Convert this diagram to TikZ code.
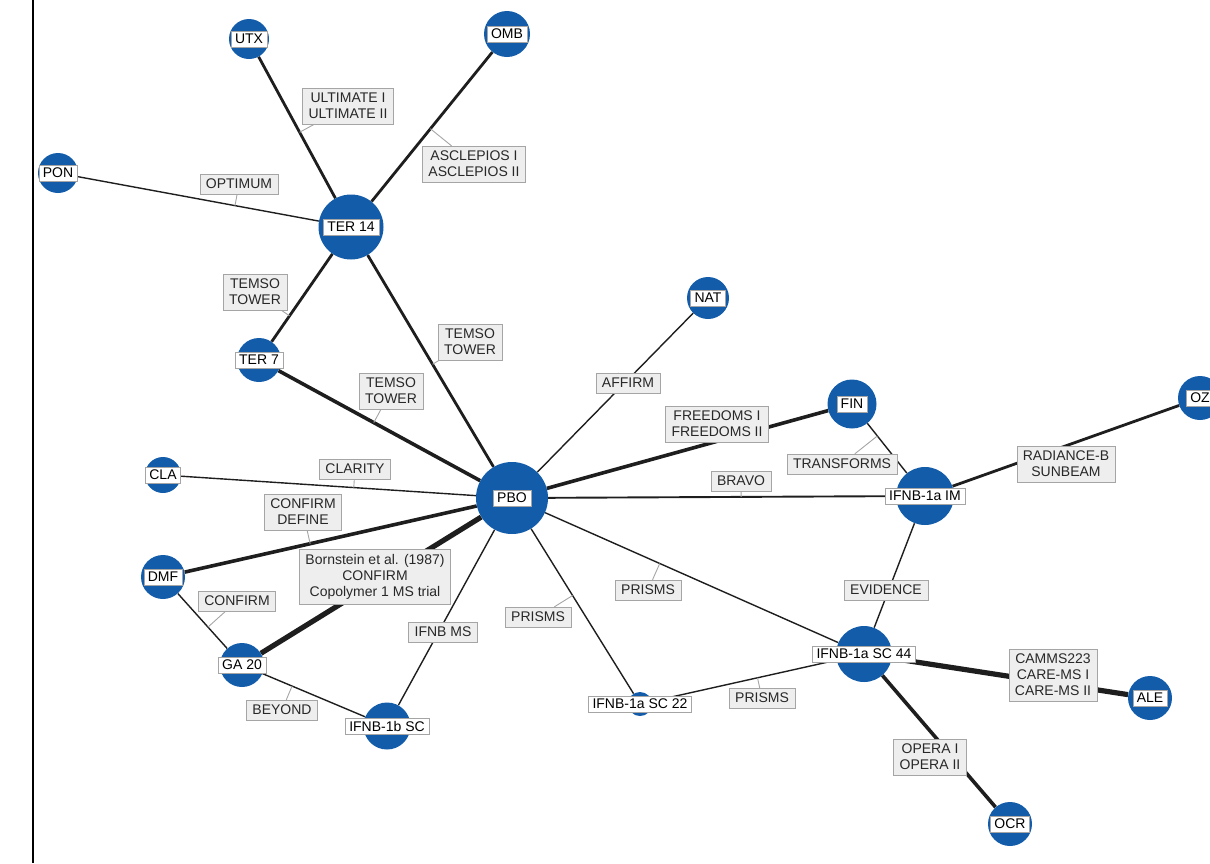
\documentclass[tikz,border=0pt]{standalone}
\usepackage{fontspec}
\setmainfont{Liberation Sans}
\usetikzlibrary{calc,backgrounds}
\definecolor{drugblue}{RGB}{18,92,170}
\definecolor{boxgray}{RGB}{238,238,238}
\definecolor{rimgray}{RGB}{165,165,165}
\definecolor{txtgray}{RGB}{40,40,40}
\definecolor{linegray}{RGB}{30,30,30}
\tikzstyle{drug} = [circle, fill=drugblue, inner sep=0pt]
\tikzstyle{trial} = [rectangle, draw=rimgray, fill=boxgray, text=txtgray, align=center, inner xsep=6pt, inner ysep=5pt, font=\fontsize{14}{16}\selectfont]
\tikzset{
 tag/.style
  = {rectangle, draw=rimgray, fill=white, text=black, inner xsep=4pt, inner ysep=3pt,
     font=\fontsize{14}{16}\selectfont},
 w1/.style
  = {draw=linegray, line width=1.4pt},
 w2/.style
  = {draw=linegray, line width=1.9pt},
 w3/.style
  = {draw=linegray, line width=2.8pt},
 w4/.style
  = {draw=linegray, line width=3.6pt},
 w5/.style
  = {draw=linegray, line width=5.2pt},
 ld/.style
  = {draw=rimgray, line width=0.9pt},
}

\begin{document}
\begin{tikzpicture}[x=1pt, y=-1pt]
\useasboundingbox (0,0) rectangle (1210,863);
\draw [line width=2pt] (33,0) -- (33,863);
% drugs
\node (utx) [drug, minimum size=40pt, label={[tag]center:UTX}] at (249,39) {};
\node (omb) [drug, minimum size=46pt, label={[tag]center:OMB}] at (507,34) {};
\node (pon) [drug, minimum size=40pt, label={[tag]center:PON}] at (58,173) {};
\node (ter14) [drug, minimum size=65pt, label={[tag]center:TER 14}] at (351,227) {};
\node (ter7) [drug, minimum size=44pt, label={[tag]center:TER 7}] at (259,360) {};
\node (nat) [drug, minimum size=42pt, label={[tag]center:NAT}] at (708,298) {};
\node (fin) [drug, minimum size=49pt, label={[tag]center:FIN}] at (852,404) {};
\node (oz) [drug, minimum size=44pt, label={[tag]center:OZ}] at (1200,398) {};
\node (pbo) [drug, minimum size=72pt, label={[tag]center:PBO}] at (512,498) {};
\node (cla) [drug, minimum size=36pt, label={[tag]center:CLA}] at (163,475) {};
\node (im) [drug, minimum size=58pt, label={[tag]center:IFNB-1a IM}] at (925,496) {};
\node (dmf) [drug, minimum size=44pt, label={[tag]center:DMF}] at (163,577) {};
\node (ga20) [drug, minimum size=44pt, label={[tag]center:GA 20}] at (242,665) {};
\node (b1sc) [drug, minimum size=47pt, label={[tag]center:IFNB-1b SC}] at (387,726) {};
\node (sc22) [drug, minimum size=24pt, label={[tag]center:IFNB-1a SC 22}] at (640,704) {};
\node (sc44) [drug, minimum size=56pt, label={[tag]center:IFNB-1a SC 44}] at (864,654) {};
\node (ale) [drug, minimum size=44pt, label={[tag]center:ALE}] at (1150,698) {};
\node (ocr) [drug, minimum size=44pt, label={[tag]center:OCR}] at (1010,824) {};
% trials
\node (ult) [trial] at (348,106) {ULTIMATE I\\ULTIMATE II};
\node (asc) [trial] at (474,164) {ASCLEPIOS I\\ASCLEPIOS II};
\node (opt) [trial] at (239,184) {OPTIMUM};
\node (tem1) [trial] at (255,292) {TEMSO\\TOWER};
\node (tem2) [trial] at (470,342) {TEMSO\\TOWER};
\node (tem3) [trial] at (391,391) {TEMSO\\TOWER};
\node (aff) [trial] at (628,383) {AFFIRM};
\node (fre) [trial] at (717,424) {FREEDOMS I\\FREEDOMS II};
\node (tra) [trial] at (842,464) {TRANSFORMS};
\node (bra) [trial] at (741,481) {BRAVO};
\node (rad) [trial] at (1066,464) {RADIANCE-B\\SUNBEAM};
\node (clar) [trial] at (355,469) {CLARITY};
\node (cdef) [trial] at (303,512) {CONFIRM\\DEFINE};
\node (born) [trial] at (375,577) {Bornstein et al. (1987)\\CONFIRM\\Copolymer 1 MS trial};
\node (conf) [trial] at (237,601) {CONFIRM};
\node (ims) [trial] at (443,632) {IFNB MS};
\node (pri1) [trial] at (538,617) {PRISMS};
\node (pri2) [trial] at (648,590) {PRISMS};
\node (evi) [trial] at (886,590) {EVIDENCE};
\node (cam) [trial] at (1053,675) {CAMMS223\\CARE-MS I\\CARE-MS II};
\node (pri3) [trial] at (762,698) {PRISMS};
\node (bey) [trial] at (282,710) {BEYOND};
\node (ope) [trial] at (930,757) {OPERA I\\OPERA II};
\begin{scope}[on background layer]
% comparisons
\draw [w3] (utx) -- (ter14);
\draw [w3] (omb) -- (ter14);
\draw [w1] (pon) -- (ter14);
\draw [w3] (ter14) -- (ter7);
\draw [w3] (ter14) -- (pbo);
\draw [w4] (ter7) -- (pbo);
\draw [w1] (nat) -- (pbo);
\draw [w4] (fin) -- (pbo);
\draw [w1] (cla) -- (pbo);
\draw [w2] (pbo) -- (im);
\draw [w4] (dmf) -- (pbo);
\draw [w5] (ga20) -- (pbo);
\draw [w1] (pbo) -- (b1sc);
\draw [w1] (pbo) -- (sc22);
\draw [w1] (pbo) -- (sc44);
\draw [w1] (dmf) -- (ga20);
\draw [w1] (ga20) -- (b1sc);
\draw [w1] (fin) -- (im);
\draw [w3] (im) -- (oz);
\draw [w1] (im) -- (sc44);
\draw [w1] (sc22) -- (sc44);
\draw [w5] (sc44) -- (ale);
\draw [w4] (sc44) -- (ocr);
% leaders
\draw [ld] (ult) -- ($(utx)!(ult)!(ter14)$);
\draw [ld] (asc) -- ($(omb)!(asc)!(ter14)$);
\draw [ld] (opt) -- ($(pon)!(opt)!(ter14)$);
\draw [ld] (tem1) -- ($(ter14)!(tem1)!(ter7)$);
\draw [ld] (tem2) -- ($(ter14)!(tem2)!(pbo)$);
\draw [ld] (tem3) -- ($(ter7)!(tem3)!(pbo)$);
\draw [ld] (aff) -- ($(nat)!(aff)!(pbo)$);
\draw [ld] (tra) -- ($(fin)!(tra)!(im)$);
\draw [ld] (bra) -- ($(pbo)!(bra)!(im)$);
\draw [ld] (clar) -- ($(cla)!(clar)!(pbo)$);
\draw [ld] (cdef) -- ($(dmf)!(cdef)!(pbo)$);
\draw [ld] (conf) -- ($(dmf)!(conf)!(ga20)$);
\draw [ld] (pri1) -- ($(pbo)!(pri1)!(sc22)$);
\draw [ld] (pri2) -- ($(pbo)!(pri2)!(sc44)$);
\draw [ld] (pri3) -- ($(sc22)!(pri3)!(sc44)$);
\draw [ld] (bey) -- ($(ga20)!(bey)!(b1sc)$);
\end{scope}
\end{tikzpicture}
\end{document}
